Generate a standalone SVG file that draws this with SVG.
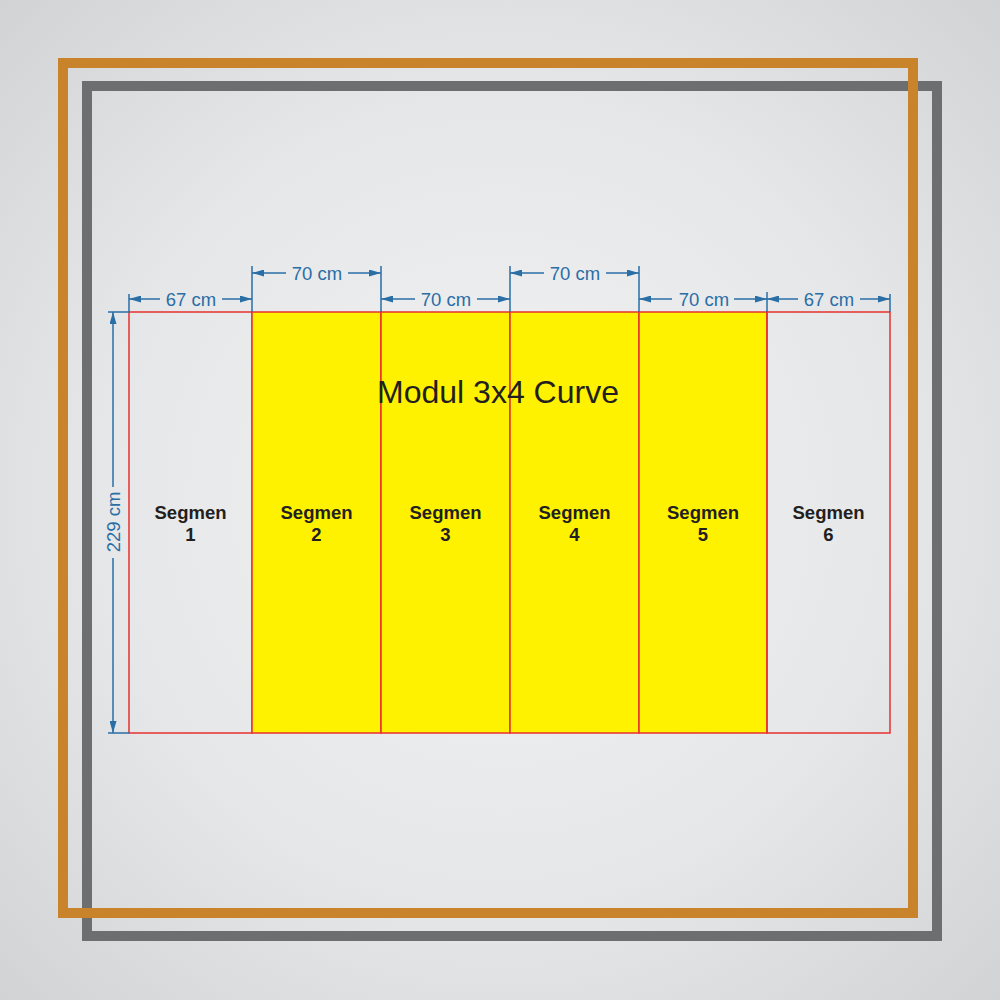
<svg xmlns="http://www.w3.org/2000/svg" width="1000" height="1000" viewBox="0 0 1000 1000">
<defs>
<radialGradient id="bg" cx="500" cy="500" r="720" gradientUnits="userSpaceOnUse">
<stop offset="0" stop-color="#f2f2f3"/>
<stop offset="0.55" stop-color="#e6e7e8"/>
<stop offset="1" stop-color="#d0d2d4"/>
</radialGradient>
<marker id="arr" viewBox="0 0 12 7" refX="12" refY="3.5" markerWidth="12" markerHeight="7" markerUnits="userSpaceOnUse" orient="auto">
<path d="M0,0 L12,3.5 L0,7 Z" fill="#2a6ea6"/>
</marker>
<style>
.seg{stroke:#e8312f;stroke-width:1.5}
.y{fill:#fff200}
.g{fill:none}
.dim{stroke:#2a6ea6;stroke-width:1.5;fill:none}
.dt{font-family:"Liberation Sans",Arial,sans-serif;font-size:18.5px;fill:#2a6ea6;text-anchor:middle}
.lb{font-family:"Liberation Sans",Arial,sans-serif;font-size:18.5px;font-weight:bold;fill:#231f20;text-anchor:middle}
</style>
</defs>
<rect x="0" y="0" width="1000" height="1000" fill="url(#bg)"/>
<rect id="frame-gray" x="87" y="86" width="850" height="850" fill="none" stroke="#6d6e70" stroke-width="10"/>
<rect id="frame-orange" x="63" y="63" width="850" height="850" fill="none" stroke="#c8832b" stroke-width="10"/>

<g id="seg1"><rect class="seg g" x="129" y="312" width="123" height="421"/><text class="lb" x="190.5" y="519">Segmen</text><text class="lb" x="190.5" y="541">1</text></g>
<g id="seg2"><rect class="seg y" x="252" y="312" width="129" height="421"/><text class="lb" x="316.5" y="519">Segmen</text><text class="lb" x="316.5" y="541">2</text></g>
<g id="seg3"><rect class="seg y" x="381" y="312" width="129" height="421"/><text class="lb" x="445.5" y="519">Segmen</text><text class="lb" x="445.5" y="541">3</text></g>
<g id="seg4"><rect class="seg y" x="510" y="312" width="129" height="421"/><text class="lb" x="574.5" y="519">Segmen</text><text class="lb" x="574.5" y="541">4</text></g>
<g id="seg5"><rect class="seg y" x="639" y="312" width="128" height="421"/><text class="lb" x="703" y="519">Segmen</text><text class="lb" x="703" y="541">5</text></g>
<g id="seg6"><rect class="seg g" x="767" y="312" width="123" height="421"/><text class="lb" x="828.5" y="519">Segmen</text><text class="lb" x="828.5" y="541">6</text></g>

<text id="title" x="498" y="403" font-family="'Liberation Sans',Arial,sans-serif" font-size="32" fill="#231f20" text-anchor="middle">Modul 3x4 Curve</text>

<g id="dimensions">
<path class="dim" d="M129,294V312 M252,266V312 M381,266V312 M510,266V312 M639,266V312 M767,292V312 M890,294V312 M108,312H129 M108,733H129"/>
<path class="dim" marker-end="url(#arr)" d="M160,299H129"/>
<path class="dim" marker-end="url(#arr)" d="M222,299H252"/>
<text class="dt" x="191" y="305.5">67 cm</text>
<path class="dim" marker-end="url(#arr)" d="M286,273H252"/>
<path class="dim" marker-end="url(#arr)" d="M348,273H381"/>
<text class="dt" x="317" y="280">70 cm</text>
<path class="dim" marker-end="url(#arr)" d="M415,299H381"/>
<path class="dim" marker-end="url(#arr)" d="M477,299H510"/>
<text class="dt" x="446" y="305.5">70 cm</text>
<path class="dim" marker-end="url(#arr)" d="M544,273H510"/>
<path class="dim" marker-end="url(#arr)" d="M606,273H639"/>
<text class="dt" x="575" y="280">70 cm</text>
<path class="dim" marker-end="url(#arr)" d="M672,299H639"/>
<path class="dim" marker-end="url(#arr)" d="M734,299H767"/>
<text class="dt" x="704" y="305.5">70 cm</text>
<path class="dim" marker-end="url(#arr)" d="M798,299H767"/>
<path class="dim" marker-end="url(#arr)" d="M860,299H890"/>
<text class="dt" x="829" y="305.5">67 cm</text>
<path class="dim" marker-end="url(#arr)" d="M113,487V312"/>
<path class="dim" marker-end="url(#arr)" d="M113,558V733"/>
<text class="dt" transform="translate(119.5,522) rotate(-90)" x="0" y="0">229 cm</text>
</g>
</svg>
